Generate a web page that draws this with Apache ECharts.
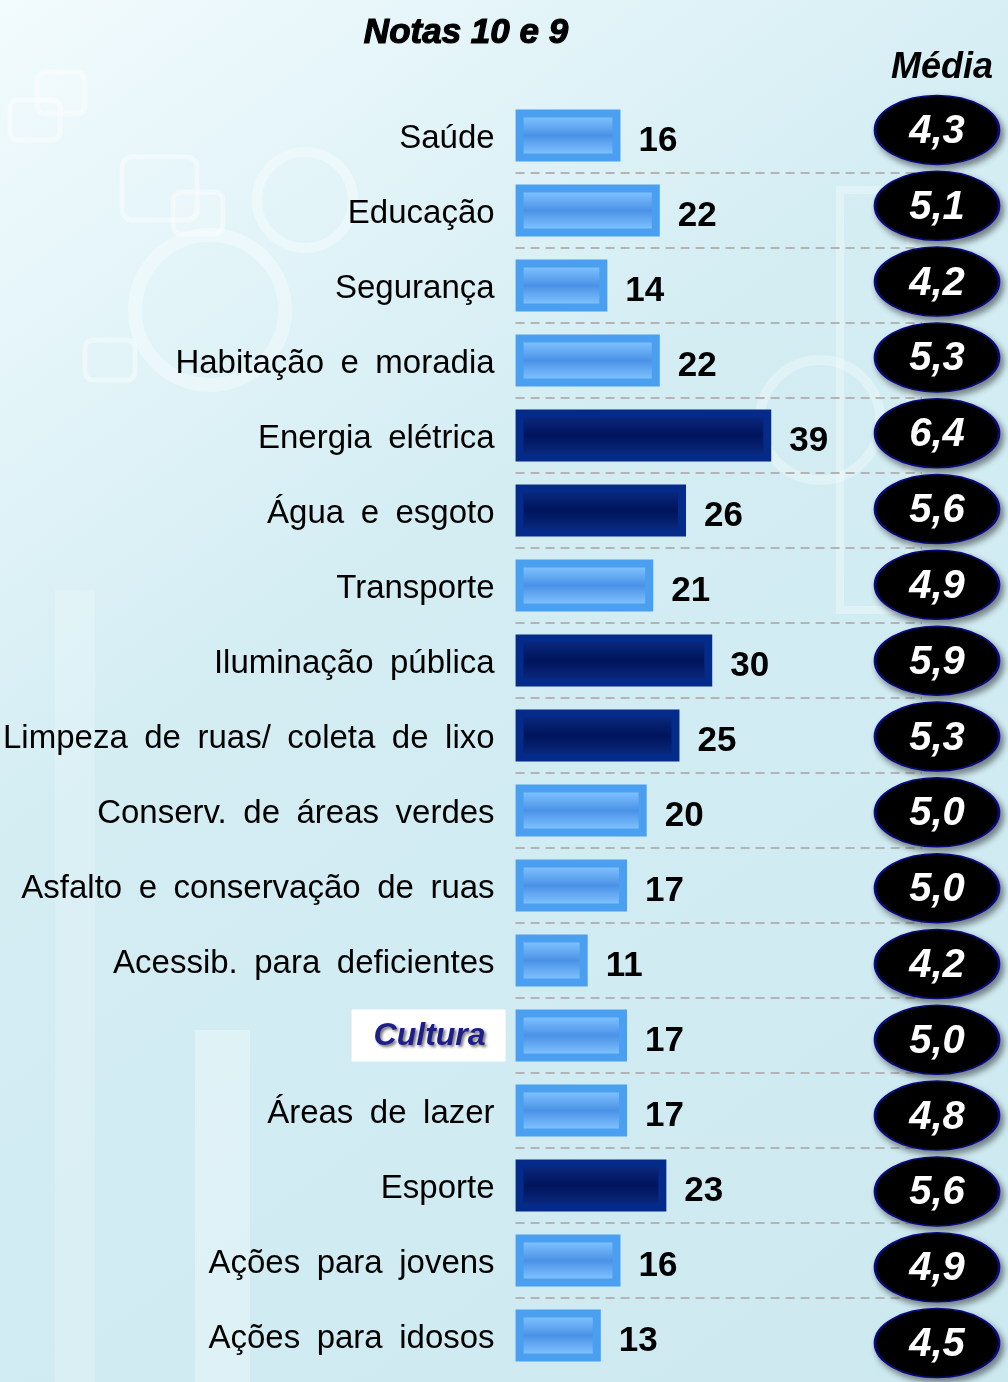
<!DOCTYPE html>
<html>
<head>
<meta charset="utf-8">
<script src="https://cdn.jsdelivr.net/npm/echarts@6/dist/echarts.min.js"></script>
<style>
html, body { margin: 0; padding: 0; }
#chart { width: 1008px; height: 1382px; }
</style>
</head>
<body>
<div id="chart"></div>
<script>
// categorias e valores (Notas 10 e 9, %)
var categories = ['Saúde', 'Educação', 'Segurança', 'Habitação e moradia', 'Energia elétrica',
    'Água e esgoto', 'Transporte', 'Iluminação pública', 'Limpeza de ruas/ coleta de lixo',
    'Conserv. de áreas verdes', 'Asfalto e conservação de ruas', 'Acessib. para deficientes',
    'Cultura', 'Áreas de lazer', 'Esporte', 'Ações para jovens', 'Ações para idosos'];
var notas = [16, 22, 14, 22, 39, 26, 21, 30, 25, 20, 17, 11, 17, 17, 23, 16, 13];
var media = [4.3, 5.1, 4.2, 5.3, 6.4, 5.6, 4.9, 5.9, 5.3, 5.0, 5.0, 4.2, 5.0, 4.8, 5.6, 4.9, 4.5];
// itens em destaque (barra escura)
var destaque = ['Energia elétrica', 'Água e esgoto', 'Iluminação pública', 'Limpeza de ruas/ coleta de lixo', 'Esporte'];

var lightBar = {
    color: new echarts.graphic.LinearGradient(0, 0, 0, 1, [
        {offset: 0, color: '#a2dcff'},
        {offset: 0.14, color: '#80c2ff'},
        {offset: 0.5, color: '#4a92e6'},
        {offset: 0.86, color: '#80c2ff'},
        {offset: 1, color: '#a8e0ff'}
    ]),
    borderColor: '#4a9ff0',
    borderWidth: 8
};
var darkBar = {
    color: new echarts.graphic.LinearGradient(0, 0, 0, 1, [
        {offset: 0, color: '#4a68b0'},
        {offset: 0.1, color: '#0a2a80'},
        {offset: 0.5, color: '#00145c'},
        {offset: 0.9, color: '#0a2a80'},
        {offset: 1, color: '#4a68b0'}
    ]),
    borderColor: '#042a8a',
    borderWidth: 8
};

// espaços mais largos, como no original
function wide(s) { return s.replace(/ /g, '\u2002'); }

var chart = echarts.init(document.getElementById('chart'));

var option = {
    backgroundColor: new echarts.graphic.LinearGradient(0, 0, 1, 1, [
        {offset: 0, color: '#f2fbfd'},
        {offset: 0.4, color: '#d3edf3'},
        {offset: 1, color: '#cde9f0'}
    ]),
    title: [
        {
            text: 'Notas 10 e 9',
            left: 461, top: 11, textAlign: 'center',
            textStyle: {fontFamily: 'Liberation Sans', fontSize: 35, fontWeight: 'bold', fontStyle: 'italic',
                color: '#000', textBorderColor: '#000', textBorderWidth: 1.2}
        },
        {
            text: 'Média',
            right: 10, top: 45,
            textStyle: {fontFamily: 'Liberation Sans', fontSize: 36, fontWeight: 'bold', fontStyle: 'italic', color: '#000'}
        }
    ],
    graphic: [
        {type: 'rect', z: -10, shape: {x: 10, y: 100, width: 50, height: 40, r: 8}, style: {fill: 'none', stroke: 'rgba(255,255,255,0.45)', lineWidth: 5}},
        {type: 'rect', z: -10, shape: {x: 37, y: 72, width: 48, height: 42, r: 8}, style: {fill: 'rgba(255,255,255,0.2)', stroke: 'rgba(255,255,255,0.4)', lineWidth: 5}},
        {type: 'rect', z: -10, shape: {x: 122, y: 157, width: 75, height: 63, r: 10}, style: {fill: 'none', stroke: 'rgba(255,255,255,0.4)', lineWidth: 5}},
        {type: 'rect', z: -10, shape: {x: 173, y: 192, width: 50, height: 42, r: 8}, style: {fill: 'rgba(255,255,255,0.2)', stroke: 'rgba(255,255,255,0.4)', lineWidth: 5}},
        {type: 'circle', z: -10, shape: {cx: 210, cy: 310, r: 75}, style: {fill: 'none', stroke: 'rgba(255,255,255,0.35)', lineWidth: 14}},
        {type: 'circle', z: -10, shape: {cx: 305, cy: 200, r: 48}, style: {fill: 'none', stroke: 'rgba(255,255,255,0.35)', lineWidth: 10}},
        {type: 'rect', z: -10, shape: {x: 85, y: 340, width: 50, height: 40, r: 8}, style: {fill: 'none', stroke: 'rgba(255,255,255,0.4)', lineWidth: 5}},
        {type: 'rect', z: -10, shape: {x: 195, y: 1030, width: 55, height: 360}, style: {fill: 'rgba(255,255,255,0.3)'}},
        {type: 'rect', z: -10, shape: {x: 55, y: 590, width: 40, height: 800}, style: {fill: 'rgba(255,255,255,0.2)'}},
        {type: 'circle', z: -10, shape: {cx: 820, cy: 420, r: 60}, style: {fill: 'none', stroke: 'rgba(255,255,255,0.3)', lineWidth: 10}},
        {type: 'rect', z: -10, shape: {x: 840, y: 190, width: 70, height: 420}, style: {fill: 'none', stroke: 'rgba(255,255,255,0.3)', lineWidth: 8}}
    ],
    grid: [
        {left: 513, top: 98, width: 409, height: 1275},
        {left: 875, top: 92, width: 124, height: 1289}
    ],
    xAxis: [
        {type: 'value', gridIndex: 0, min: 0, max: 62, show: false},
        {type: 'category', gridIndex: 1, data: ['Média'], show: false}
    ],
    yAxis: [
        {
            type: 'category', gridIndex: 0, inverse: true, data: categories,
            axisLine: {show: false}, axisTick: {show: false},
            splitLine: {show: true, showMinLine: false, showMaxLine: false,
                lineStyle: {type: [9, 6], color: '#b4b4b4', width: 2}},
            axisLabel: {
                margin: 10,
                formatter: function (v) {
                    return v === 'Cultura' ? '{cult|' + v + '}' : '{n|' + wide(v) + '}';
                },
                rich: {
                    n: {fontFamily: 'Liberation Sans', fontSize: 33, color: '#000', padding: [7, 11, 0, 0]},
                    cult: {fontFamily: 'Liberation Sans', fontSize: 32, fontWeight: 'bold', fontStyle: 'italic',
                        color: '#1e1e8a', backgroundColor: '#fff', padding: [11, 20, 9, 22],
                        textShadowColor: 'rgba(0,0,0,0.55)', textShadowBlur: 3, textShadowOffsetX: 2, textShadowOffsetY: 2}
                }
            }
        },
        {type: 'category', gridIndex: 1, inverse: true, data: categories, show: false}
    ],
    series: [
        {
            type: 'bar', xAxisIndex: 0, yAxisIndex: 0, barWidth: 52,
            data: notas.map(function (v, i) {
                return {value: v, itemStyle: destaque.indexOf(categories[i]) >= 0 ? darkBar : lightBar};
            }),
            label: {
                show: true, position: 'right', distance: 18, offset: [0, 6],
                fontFamily: 'Liberation Sans', fontSize: 35, fontWeight: 'bold', color: '#000'
            }
        },
        {
            type: 'scatter', xAxisIndex: 1, yAxisIndex: 1,
            symbol: 'path://M0,50 A50,50 0 1,1 100,50 A50,50 0 1,1 0,50 Z',
            symbolSize: [124, 69],
            itemStyle: {opacity: 1, color: '#000', borderColor: '#0a0a80', borderWidth: 2,
                shadowColor: 'rgba(0,0,0,0.45)', shadowBlur: 6, shadowOffsetX: 3, shadowOffsetY: 4},
            data: media.map(function (v, i) { return [0, i, v]; }),
            label: {
                show: true, position: 'inside', offset: [0, 2],
                formatter: function (p) { return p.value[2].toFixed(1).replace('.', ','); },
                fontFamily: 'Liberation Sans', fontSize: 40, fontWeight: 'bold', fontStyle: 'italic', color: '#fff'
            }
        }
    ]
};
chart.setOption(option);
</script>
</body>
</html>
